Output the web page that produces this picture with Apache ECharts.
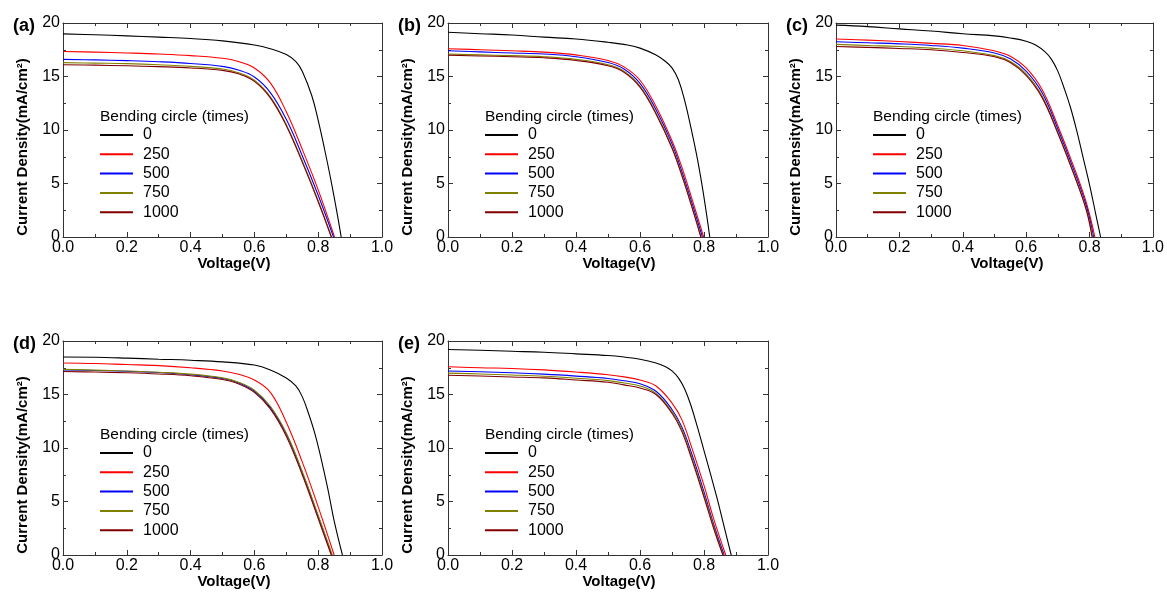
<!DOCTYPE html>
<html>
<head>
<meta charset="utf-8">
<script src="https://cdn.jsdelivr.net/npm/echarts@6/dist/echarts.min.js"></script>
<style>
html,body{margin:0;padding:0;background:#fff;}
#chart{width:1167px;height:596px;}
</style>
</head>
<body>
<div id="chart"></div>
<script>
// ---------- DATA ----------
const seriesNames = ['0', '250', '500', '750', '1000'];
const panelLabels = ['(a)', '(b)', '(c)', '(d)', '(e)'];
const xTickLabels = ['0.0', '0.2', '0.4', '0.6', '0.8', '1.0'];
const yTickLabels = ['0', '5', '10', '15', '20'];

// Panel (a)  [Voltage (V), Current density (mA/cm2)]
const a_0    = [[0,18.98],[0.1,18.9],[0.2,18.8],[0.3,18.68],[0.4,18.55],[0.5,18.33],[0.6,17.95],[0.65,17.6],[0.7,17.05],[0.73,16.4],[0.75,15.5],[0.78,13.2],[0.8,10.9],[0.82,8.2],[0.84,5.3],[0.86,2.1],[0.872,0]];
const a_250  = [[0,17.34],[0.1,17.28],[0.2,17.2],[0.3,17.1],[0.4,16.95],[0.5,16.7],[0.55,16.4],[0.6,15.8],[0.65,14.4],[0.7,11.7],[0.75,8.2],[0.8,4.4],[0.851,0]];
const a_500  = [[0,16.6],[0.1,16.55],[0.2,16.48],[0.3,16.38],[0.4,16.22],[0.5,15.95],[0.55,15.6],[0.6,14.95],[0.65,13.5],[0.7,11.0],[0.75,7.6],[0.8,3.9],[0.848,0]];
const a_750  = [[0,16.3],[0.1,16.25],[0.2,16.2],[0.3,16.1],[0.4,15.95],[0.5,15.7],[0.55,15.35],[0.6,14.65],[0.65,13.1],[0.7,10.5],[0.75,7.1],[0.8,3.4],[0.842,0]];
const a_1000 = [[0,16.1],[0.1,16.06],[0.2,16.0],[0.3,15.92],[0.4,15.8],[0.5,15.57],[0.55,15.25],[0.6,14.55],[0.65,13.0],[0.7,10.4],[0.75,7.0],[0.8,3.3],[0.841,0]];

// Panel (b)
const b_0    = [[0,19.13],[0.1,19.0],[0.2,18.88],[0.3,18.68],[0.4,18.5],[0.5,18.2],[0.55,18.0],[0.6,17.65],[0.65,17.0],[0.68,16.4],[0.7,15.8],[0.72,14.7],[0.74,12.7],[0.76,10.1],[0.78,7.2],[0.8,3.7],[0.818,0]];
const b_250  = [[0,17.6],[0.1,17.5],[0.2,17.4],[0.3,17.28],[0.4,17.02],[0.5,16.5],[0.55,15.9],[0.6,14.65],[0.65,12.2],[0.7,9.0],[0.73,6.6],[0.76,3.8],[0.799,0]];
const b_500  = [[0,17.4],[0.1,17.3],[0.2,17.2],[0.3,17.1],[0.4,16.85],[0.5,16.3],[0.55,15.7],[0.6,14.35],[0.65,11.9],[0.7,8.7],[0.73,6.2],[0.76,3.4],[0.795,0]];
const b_750  = [[0,17.1],[0.1,17.02],[0.2,16.95],[0.3,16.85],[0.4,16.6],[0.5,16.1],[0.55,15.5],[0.6,14.1],[0.65,11.6],[0.7,8.4],[0.73,5.9],[0.76,3.1],[0.791,0]];
const b_1000 = [[0,17.0],[0.1,16.92],[0.2,16.85],[0.3,16.75],[0.4,16.5],[0.5,16.0],[0.55,15.4],[0.6,14.0],[0.65,11.5],[0.7,8.3],[0.73,5.8],[0.76,3.0],[0.79,0]];

// Panel (c)
const c_0    = [[0,19.8],[0.1,19.66],[0.2,19.45],[0.3,19.25],[0.4,19.0],[0.5,18.8],[0.55,18.6],[0.6,18.3],[0.63,17.95],[0.66,17.3],[0.68,16.6],[0.7,15.5],[0.72,13.9],[0.74,12.1],[0.76,9.9],[0.78,7.4],[0.8,4.9],[0.82,2.1],[0.835,0]];
const c_250  = [[0,18.5],[0.1,18.4],[0.2,18.27],[0.3,18.1],[0.4,17.9],[0.5,17.4],[0.55,16.9],[0.6,15.8],[0.65,13.8],[0.7,10.4],[0.75,6.6],[0.79,3.2],[0.817,0]];
const c_500  = [[0,18.25],[0.1,18.15],[0.2,18.05],[0.3,17.9],[0.4,17.65],[0.5,17.2],[0.55,16.65],[0.6,15.5],[0.65,13.5],[0.7,10.1],[0.75,6.3],[0.79,2.9],[0.813,0]];
const c_750  = [[0,18.0],[0.1,17.9],[0.2,17.8],[0.3,17.65],[0.4,17.4],[0.5,16.95],[0.55,16.4],[0.6,15.25],[0.65,13.2],[0.7,9.8],[0.75,6.0],[0.79,2.6],[0.81,0]];
const c_1000 = [[0,17.8],[0.1,17.72],[0.2,17.62],[0.3,17.5],[0.4,17.25],[0.5,16.85],[0.55,16.3],[0.6,15.1],[0.65,13.05],[0.7,9.7],[0.75,5.9],[0.79,2.5],[0.808,0]];

// Panel (d)
const d_0    = [[0,18.5],[0.1,18.48],[0.2,18.4],[0.3,18.3],[0.4,18.2],[0.5,18.05],[0.6,17.75],[0.65,17.3],[0.7,16.55],[0.73,15.8],[0.75,14.8],[0.77,13.2],[0.79,11.3],[0.81,8.9],[0.83,6.2],[0.85,3.2],[0.876,0]];
const d_250  = [[0,17.95],[0.1,17.9],[0.2,17.8],[0.3,17.7],[0.4,17.5],[0.5,17.2],[0.55,16.9],[0.6,16.35],[0.65,15.2],[0.7,12.4],[0.75,8.7],[0.8,4.5],[0.85,0]];
const d_500  = [[0,17.3],[0.1,17.25],[0.2,17.17],[0.3,17.05],[0.4,16.85],[0.5,16.5],[0.55,16.1],[0.6,15.3],[0.65,13.8],[0.7,11.3],[0.75,7.7],[0.8,3.6],[0.843,0]];
const d_750  = [[0,17.35],[0.1,17.28],[0.2,17.2],[0.3,17.08],[0.4,16.9],[0.5,16.55],[0.55,16.15],[0.6,15.4],[0.65,13.9],[0.7,11.4],[0.75,7.8],[0.8,3.7],[0.844,0]];
const d_1000 = [[0,17.15],[0.1,17.1],[0.2,17.03],[0.3,16.92],[0.4,16.75],[0.5,16.4],[0.55,16.0],[0.6,15.2],[0.65,13.65],[0.7,11.1],[0.75,7.5],[0.8,3.4],[0.841,0]];

// Panel (e)
const e_0    = [[0,19.2],[0.1,19.13],[0.2,19.04],[0.3,18.95],[0.4,18.8],[0.5,18.64],[0.55,18.5],[0.6,18.3],[0.65,17.95],[0.68,17.6],[0.7,17.2],[0.72,16.55],[0.74,15.5],[0.76,13.9],[0.78,11.9],[0.8,9.75],[0.82,7.6],[0.84,5.4],[0.86,3.0],[0.885,0]];
const e_250  = [[0,17.6],[0.1,17.5],[0.2,17.43],[0.3,17.3],[0.4,17.1],[0.5,16.85],[0.55,16.65],[0.6,16.35],[0.65,15.8],[0.7,14.2],[0.73,12.7],[0.76,10.2],[0.8,6.5],[0.83,3.4],[0.868,0]];
const e_500  = [[0,17.2],[0.1,17.12],[0.2,17.03],[0.3,16.9],[0.4,16.72],[0.5,16.5],[0.55,16.28],[0.6,16.0],[0.65,15.3],[0.7,13.6],[0.73,12.0],[0.76,9.6],[0.8,5.9],[0.83,2.9],[0.863,0]];
const e_750  = [[0,17.0],[0.1,16.92],[0.2,16.82],[0.3,16.7],[0.4,16.52],[0.5,16.3],[0.55,16.08],[0.6,15.8],[0.65,15.1],[0.7,13.4],[0.73,11.8],[0.76,9.3],[0.8,5.6],[0.83,2.7],[0.86,0]];
const e_1000 = [[0,16.8],[0.1,16.73],[0.2,16.64],[0.3,16.55],[0.4,16.36],[0.5,16.15],[0.55,15.9],[0.6,15.6],[0.65,15.0],[0.7,13.25],[0.73,11.6],[0.76,9.1],[0.8,5.4],[0.83,2.5],[0.859,0]];

const panels = [
  [a_0, a_250, a_500, a_750, a_1000],
  [b_0, b_250, b_500, b_750, b_1000],
  [c_0, c_250, c_500, c_750, c_1000],
  [d_0, d_250, d_500, d_750, d_1000],
  [e_0, e_250, e_500, e_750, e_1000]
];

// ---------- STYLE / LAYOUT ----------
const FONT = '"Liberation Sans", Arial, Helvetica, sans-serif';
const colors = ['#000000', '#ff0000', '#0000ff', '#808000', '#800000'];
const AX = '#333333';
const gridBoxes = [
  {left: 63,  top: 23,  width: 319, height: 214},
  {left: 448, top: 23,  width: 320, height: 214},
  {left: 836, top: 23,  width: 317, height: 214},
  {left: 63,  top: 341, width: 319, height: 214},
  {left: 448, top: 341, width: 320, height: 214}
];

const grid = [], xAxis = [], yAxis = [], series = [], legend = [], graphic = [];

gridBoxes.forEach((g, p) => {
  grid.push({left: g.left, top: g.top, width: g.width, height: g.height, containLabel: false});
  const tickCommon = {
    axisLine: {show: true, onZero: false, lineStyle: {color: AX, width: 1}},
    axisTick: {show: true, inside: true, length: 5, lineStyle: {color: AX, width: 1}},
    minorTick: {show: true, splitNumber: 2, length: 3, lineStyle: {color: AX, width: 1}},
    splitLine: {show: false},
    minorSplitLine: {show: false}
  };
  xAxis.push(Object.assign({
    type: 'value', gridIndex: p, position: 'bottom', min: 0, max: 1, interval: 0.2,
    axisLabel: {show: true, margin: 3, color: '#000', fontSize: 16, fontFamily: FONT,
      formatter: v => xTickLabels[Math.round(v / 0.2)]}
  }, tickCommon));
  xAxis.push(Object.assign({
    type: 'value', gridIndex: p, position: 'top', min: 0, max: 1, interval: 0.2,
    axisLabel: {show: false}
  }, tickCommon));
  yAxis.push(Object.assign({
    type: 'value', gridIndex: p, position: 'left', min: 0, max: 20, interval: 5,
    axisLabel: {show: true, margin: 3, color: '#000', fontSize: 16, fontFamily: FONT,
      formatter: v => yTickLabels[Math.round(v / 5)]}
  }, tickCommon));
  yAxis.push(Object.assign({
    type: 'value', gridIndex: p, position: 'right', min: 0, max: 20, interval: 5,
    axisLabel: {show: false}
  }, tickCommon));

  panels[p].forEach((data, k) => {
    series.push({
      type: 'line', name: seriesNames[k],
      xAxisIndex: 2 * p, yAxisIndex: 2 * p,
      data: data, symbol: 'none', showSymbol: false,
      smooth: 0.4, clip: true,
      lineStyle: {color: colors[k], width: 1.1},
      itemStyle: {color: colors[k]},
      emphasis: {disabled: true},
      animation: false
    });
  });

  legend.push({
    show: true, orient: 'vertical', left: g.left + 37, top: g.top + 104,
    padding: 0, itemWidth: 33, itemHeight: 14, itemGap: 3.3,
    selectedMode: false, icon: 'path://M0,0 L33,0 L33,2 L0,2 Z',
    textStyle: {fontSize: 16, fontFamily: FONT, color: '#000', lineHeight: 16, padding: [0, 0, 0, 5]},
    data: seriesNames.map((n, k) => ({name: n, itemStyle: {color: colors[k]}}))
  });

  // legend heading
  graphic.push({
    type: 'text', left: g.left + 37, top: g.top + 86, silent: true,
    style: {text: 'Bending circle (times)', fontSize: 15.5, fontFamily: FONT, fill: '#000'}
  });
  // panel label
  graphic.push({
    type: 'text', left: g.left - 50, top: g.top - 6, silent: true,
    style: {text: panelLabels[p], fontSize: 18, fontWeight: 'bold', fontFamily: FONT, fill: '#000'}
  });
  // y-axis title
  graphic.push({
    type: 'text', x: g.left - 40, y: g.top + 124, rotation: Math.PI / 2, silent: true,
    style: {text: 'Current Density(mA/cm²)', fontSize: 15, fontWeight: 'bold', fontFamily: FONT,
      fill: '#000', align: 'center', verticalAlign: 'middle'}
  });
  // x-axis title
  graphic.push({
    type: 'text', x: g.left + 171, y: g.top + g.height + 27, silent: true,
    style: {text: 'Voltage(V)', fontSize: 15, fontWeight: 'bold', fontFamily: FONT,
      fill: '#000', align: 'center', verticalAlign: 'middle'}
  });
});

const chart = echarts.init(document.getElementById('chart'), null, {renderer: 'canvas'});
chart.setOption({
  backgroundColor: '#ffffff',
  animation: false,
  grid, xAxis, yAxis, series, legend, graphic
});
</script>
</body>
</html>
